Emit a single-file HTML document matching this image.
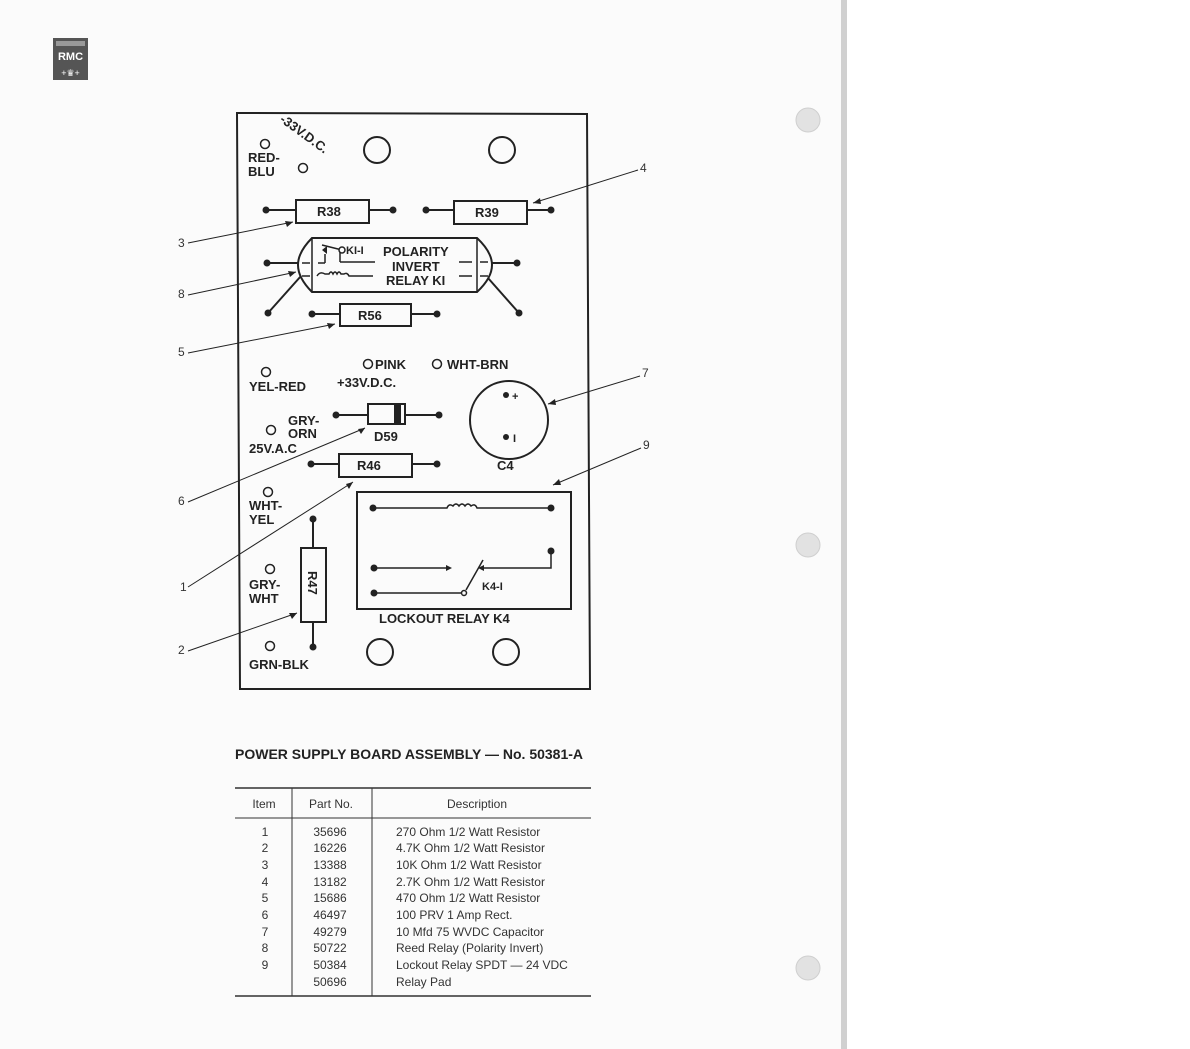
<!DOCTYPE html>
<html><head><meta charset="utf-8"><style>
html,body{margin:0;padding:0;background:#fff;}
svg{display:block;}
.b{font-family:"Liberation Sans",sans-serif;font-weight:bold;fill:#222;}
.t{font-family:"Liberation Sans",sans-serif;fill:#333;font-size:12px;}
</style></head><body>
<svg width="1190" height="1049" viewBox="0 0 1190 1049" xmlns="http://www.w3.org/2000/svg">
<rect x="0" y="0" width="843" height="1049" fill="#fbfbfb"/>
<rect x="841" y="0" width="6" height="1049" fill="#d0d0d0"/>
<rect x="847" y="0" width="343" height="1049" fill="#ffffff"/>
<g fill="#e2e2e2" stroke="#cfcfcf">
<circle cx="808" cy="120" r="12"/><circle cx="808" cy="545" r="12"/><circle cx="808" cy="968" r="12"/>
</g>
<!-- logo -->
<rect x="53" y="38" width="35" height="42" fill="#555"/>
<rect x="56" y="41" width="29" height="5" fill="#999"/>
<text x="70.5" y="60" class="b" font-size="11" fill="#fff" style="fill:#fff" text-anchor="middle">RMC</text>
<text x="70.5" y="76" font-family="Liberation Sans" font-size="9" fill="#fff" text-anchor="middle">+♛+</text>

<g stroke="#222" stroke-width="2" fill="none">
<polygon points="237,113 587,114 590,689 240,689"/>
<circle cx="377" cy="150" r="13"/><circle cx="502" cy="150" r="13"/>
<circle cx="380" cy="652" r="13"/><circle cx="506" cy="652" r="13"/>
<g stroke-width="1.5">
<circle cx="265" cy="144" r="4.5"/><circle cx="303" cy="168" r="4.5"/>
<circle cx="266" cy="372" r="4.5"/><circle cx="368" cy="364" r="4.5"/><circle cx="437" cy="364" r="4.5"/>
<circle cx="271" cy="430" r="4.5"/><circle cx="268" cy="492" r="4.5"/><circle cx="270" cy="569" r="4.5"/><circle cx="270" cy="646" r="4.5"/>
</g>
<!-- resistors -->
<rect x="296" y="200" width="73" height="23"/><line x1="266" y1="210" x2="296" y2="210"/><line x1="369" y1="210" x2="393" y2="210"/>
<rect x="454" y="201" width="73" height="23"/><line x1="426" y1="210" x2="454" y2="210"/><line x1="527" y1="210" x2="551" y2="210"/>
<rect x="340" y="304" width="71" height="22"/><line x1="312" y1="314" x2="340" y2="314"/><line x1="411" y1="314" x2="437" y2="314"/>
<rect x="339" y="454" width="73" height="23"/><line x1="311" y1="464" x2="339" y2="464"/><line x1="412" y1="464" x2="437" y2="464"/>
<rect x="301" y="548" width="25" height="74"/><line x1="313" y1="519" x2="313" y2="548"/><line x1="313" y1="622" x2="313" y2="647"/>
<!-- diode -->
<rect x="368" y="404" width="37" height="20"/><line x1="336" y1="415" x2="368" y2="415"/><line x1="405" y1="415" x2="439" y2="415"/>
<!-- capacitor -->
<circle cx="509" cy="420" r="39"/>
<!-- reed relay -->
<path d="M312,238 L477,238 Q492,252 492,265 Q492,278 477,292 L312,292 Q298,278 298,265 Q298,252 312,238 Z"/>
<line x1="267" y1="263" x2="298" y2="263"/><line x1="492" y1="263" x2="517" y2="263"/>
<line x1="301" y1="276" x2="268" y2="313"/><line x1="488" y1="278" x2="519" y2="313"/>
<g stroke-width="1.5">
<line x1="312" y1="238" x2="312" y2="292"/><line x1="477" y1="238" x2="477" y2="292"/>
<line x1="302" y1="263" x2="310" y2="263"/><line x1="318" y1="263" x2="325" y2="263"/>
<line x1="302" y1="276" x2="310" y2="276"/>
<line x1="340" y1="262" x2="375" y2="262"/><line x1="340" y1="262" x2="340" y2="250"/>
<line x1="322" y1="245" x2="342" y2="250"/>
<line x1="325" y1="263" x2="325" y2="254"/>
<path d="M317,276 q3,-5 8,-2 h4 q2,-4 4,0 q2,-4 4,0 q2,-4 4,0 h3 q3,-2 5,2 h24"/>
<line x1="459" y1="262" x2="472" y2="262"/><line x1="480" y1="262" x2="488" y2="262"/>
<line x1="459" y1="276" x2="472" y2="276"/><line x1="480" y1="276" x2="488" y2="276"/>
</g>
<!-- lockout relay -->
<rect x="357" y="492" width="214" height="117"/>
<g stroke-width="1.5">
<path d="M373,508 H447 q2,-5 6,-2 q3,-4 6,0 q3,-4 6,0 q3,-4 6,0 q4,-3 6,2 H551"/>
<line x1="374" y1="568" x2="446" y2="568"/>
<path d="M551,551 V568 H482"/>
<line x1="374" y1="593" x2="462" y2="593"/>
<line x1="466" y1="590" x2="483" y2="560"/>
<circle cx="464" cy="593" r="2.5"/>
</g>
<!-- callouts -->
<g stroke-width="1">
<line x1="188" y1="243" x2="293" y2="222"/><line x1="188" y1="295" x2="296" y2="272"/>
<line x1="188" y1="353" x2="335" y2="324"/><line x1="188" y1="502" x2="365" y2="428"/>
<line x1="188" y1="587" x2="353" y2="482"/><line x1="188" y1="651" x2="297" y2="613"/>
<line x1="638" y1="170" x2="533" y2="203"/><line x1="640" y1="376" x2="548" y2="404"/>
<line x1="641" y1="448" x2="553" y2="485"/>
</g>
</g>
<g fill="#222">
<circle cx="266" cy="210" r="3.5"/><circle cx="393" cy="210" r="3.5"/><circle cx="426" cy="210" r="3.5"/><circle cx="551" cy="210" r="3.5"/>
<circle cx="312" cy="314" r="3.5"/><circle cx="437" cy="314" r="3.5"/><circle cx="311" cy="464" r="3.5"/><circle cx="437" cy="464" r="3.5"/>
<circle cx="313" cy="519" r="3.5"/><circle cx="313" cy="647" r="3.5"/>
<circle cx="336" cy="415" r="3.5"/><circle cx="439" cy="415" r="3.5"/>
<circle cx="267" cy="263" r="3.5"/><circle cx="517" cy="263" r="3.5"/><circle cx="268" cy="313" r="3.5"/><circle cx="519" cy="313" r="3.5"/>
<circle cx="506" cy="395" r="3"/><circle cx="506" cy="437" r="3"/>
<circle cx="373" cy="508" r="3.5"/><circle cx="551" cy="508" r="3.5"/><circle cx="374" cy="568" r="3.5"/><circle cx="551" cy="551" r="3.5"/><circle cx="374" cy="593" r="3.5"/>
<rect x="394" y="405" width="7" height="18"/>
<polygon points="446,565 452,568 446,571"/><polygon points="484,565 478,568 484,571"/>
<polygon points="322,250 327,246 327,254"/>
<polygon points="293,222 285,221 287,227"/><polygon points="296,272 288,271 290,277"/>
<polygon points="335,324 327,323 329,329"/><polygon points="365,428 358,429 361,434"/>
<polygon points="353,482 346,484 349,489"/><polygon points="297,613 289,613 292,619"/>
<polygon points="533,203 540,198 541,204"/><polygon points="548,404 555,399 556,405"/>
<polygon points="553,485 559,479 561,485"/>
</g>
<circle cx="342" cy="250" r="3" fill="#fff" stroke="#222" stroke-width="1.5"/>

<g class="b" font-size="13">
<text x="0" y="0" transform="translate(279,121) rotate(36)">-33V.D.C.</text>
<text x="248" y="162">RED-</text><text x="248" y="176">BLU</text>
<text x="317" y="216">R38</text><text x="475" y="217">R39</text><text x="358" y="320">R56</text>
<text x="357" y="470">R46</text>
<text x="0" y="0" transform="translate(308,571) rotate(90)">R47</text>
<text x="346" y="254" font-size="11">KI-I</text>
<text x="383" y="256">POLARITY</text><text x="392" y="271">INVERT</text><text x="386" y="285">RELAY KI</text>
<text x="375" y="369">PINK</text><text x="447" y="369">WHT-BRN</text>
<text x="249" y="391">YEL-RED</text><text x="337" y="387">+33V.D.C.</text>
<text x="288" y="425">GRY-</text><text x="288" y="438">ORN</text><text x="249" y="453">25V.A.C</text>
<text x="374" y="441">D59</text><text x="497" y="470">C4</text>
<text x="512" y="400" font-size="11">+</text><text x="513" y="442" font-size="11">I</text>
<text x="249" y="510">WHT-</text><text x="249" y="524">YEL</text>
<text x="249" y="589">GRY-</text><text x="249" y="603">WHT</text><text x="249" y="669">GRN-BLK</text>
<text x="482" y="590" font-size="11">K4-I</text>
<text x="379" y="623">LOCKOUT RELAY K4</text>
</g>
<g class="t" font-size="11">
<text x="178" y="247">3</text><text x="178" y="298">8</text><text x="178" y="356">5</text><text x="178" y="505">6</text>
<text x="180" y="591">1</text><text x="178" y="654">2</text><text x="640" y="172">4</text><text x="642" y="377">7</text><text x="643" y="449">9</text>
</g>
<text x="235" y="759" class="b" font-size="14">POWER SUPPLY BOARD ASSEMBLY — No. 50381-A</text>
<g stroke="#333" fill="none">
<line x1="235" y1="788" x2="591" y2="788" stroke-width="1.5"/>
<line x1="235" y1="818" x2="591" y2="818" stroke-width="1"/>
<line x1="235" y1="996" x2="591" y2="996" stroke-width="1.5"/>
<line x1="292" y1="788" x2="292" y2="996"/><line x1="372" y1="788" x2="372" y2="996"/>
</g>
<g class="t">
<text x="264" y="808" text-anchor="middle">Item</text><text x="331" y="808" text-anchor="middle">Part No.</text><text x="477" y="808" text-anchor="middle">Description</text>
<g text-anchor="middle">
<text x="265" y="836">1</text><text x="265" y="852">2</text><text x="265" y="869">3</text><text x="265" y="886">4</text><text x="265" y="902">5</text><text x="265" y="919">6</text><text x="265" y="936">7</text><text x="265" y="952">8</text><text x="265" y="969">9</text>
<text x="330" y="836">35696</text><text x="330" y="852">16226</text><text x="330" y="869">13388</text><text x="330" y="886">13182</text><text x="330" y="902">15686</text><text x="330" y="919">46497</text><text x="330" y="936">49279</text><text x="330" y="952">50722</text><text x="330" y="969">50384</text><text x="330" y="986">50696</text>
</g>
<text x="396" y="836">270 Ohm 1/2 Watt Resistor</text><text x="396" y="852">4.7K Ohm 1/2 Watt Resistor</text><text x="396" y="869">10K Ohm 1/2 Watt Resistor</text><text x="396" y="886">2.7K Ohm 1/2 Watt Resistor</text><text x="396" y="902">470 Ohm 1/2 Watt Resistor</text><text x="396" y="919">100 PRV 1 Amp Rect.</text><text x="396" y="936">10 Mfd 75 WVDC Capacitor</text><text x="396" y="952">Reed Relay (Polarity Invert)</text><text x="396" y="969">Lockout Relay SPDT — 24 VDC</text><text x="396" y="986">Relay Pad</text>
</g>
</svg>
</body></html>
